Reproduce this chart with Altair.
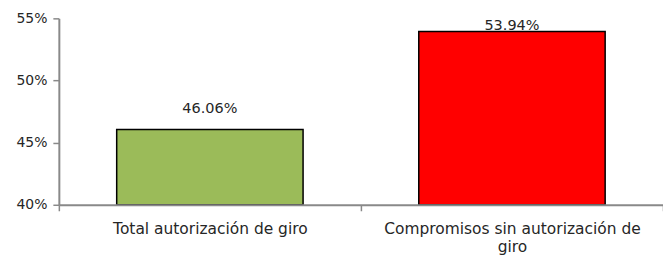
import altair as alt
import pandas as pd

categories = ["Total autorización de giro", "Compromisos sin autorización de giro"]
values = [0.4606, 0.5394]
colors = ["#9BBB59", "#FF0000"]
y_ticks = [0.40, 0.45, 0.50, 0.55]
baseline = 0.40

df = pd.DataFrame({"cat": categories, "value": values, "color": colors})

FONT = "DejaVu Sans"

x_enc = alt.X(
    "cat:N",
    sort=categories,
    scale=alt.Scale(paddingInner=0, paddingOuter=0),
    axis=alt.Axis(
        title=None,
        labelAngle=0,
        labelExpr="datum.label == 'Compromisos sin autorización de giro' ? ['Compromisos sin autorización de', 'giro'] : datum.label",
        labelFont=FONT,
        labelFontSize=15.5,
        labelColor="#262626",
        labelLineHeight=18,
        labelPadding=11,
        labelLimit=0,
        tickBand="extent",
        tickSize=6,
        tickColor="#898989",
        domainColor="#898989",
        domainWidth=2,
        tickWidth=1.5,
        zindex=1,
    ),
)

bars = alt.Chart(df).mark_bar(
    stroke="black", strokeWidth=1.5, width=alt.RelativeBandSize(0.617)
).encode(
    x=x_enc,
    y=alt.Y(
        "value:Q",
        scale=alt.Scale(domain=[0.40, 0.55], nice=False, zero=False),
        axis=alt.Axis(
            title=None,
            values=y_ticks,
            format=".0%",
            grid=False,
            labelFont=FONT,
            labelFontSize=14,
            labelColor="#262626",
            labelPadding=6,
            tickSize=6,
            tickColor="#898989",
            domainColor="#898989",
            domainWidth=2,
            tickWidth=1.5,
        ),
    ),
    y2=alt.datum(baseline),
    color=alt.Color("color:N", scale=None, legend=None),
)

labels = alt.Chart(df).transform_calculate(
    pos="datum.value > 0.53 ? datum.value : datum.value + 0.012"
).mark_text(font=FONT, fontSize=14.5, baseline="bottom", color="#262626", dy=1).encode(
    x=alt.X("cat:N", sort=categories),
    y=alt.Y("pos:Q"),
    text=alt.Text("value:Q", format=".2%"),
)

chart = (
    alt.layer(bars, labels)
    .properties(
        width=606,
        height=187,
        autosize=alt.AutoSizeParams(type="none"),
        padding={"left": 51, "top": 10, "right": 0, "bottom": 52},
    )
    .configure_view(stroke=None)
)

chart.save("out.html", embed_options={"renderer": "svg", "actions": False})
